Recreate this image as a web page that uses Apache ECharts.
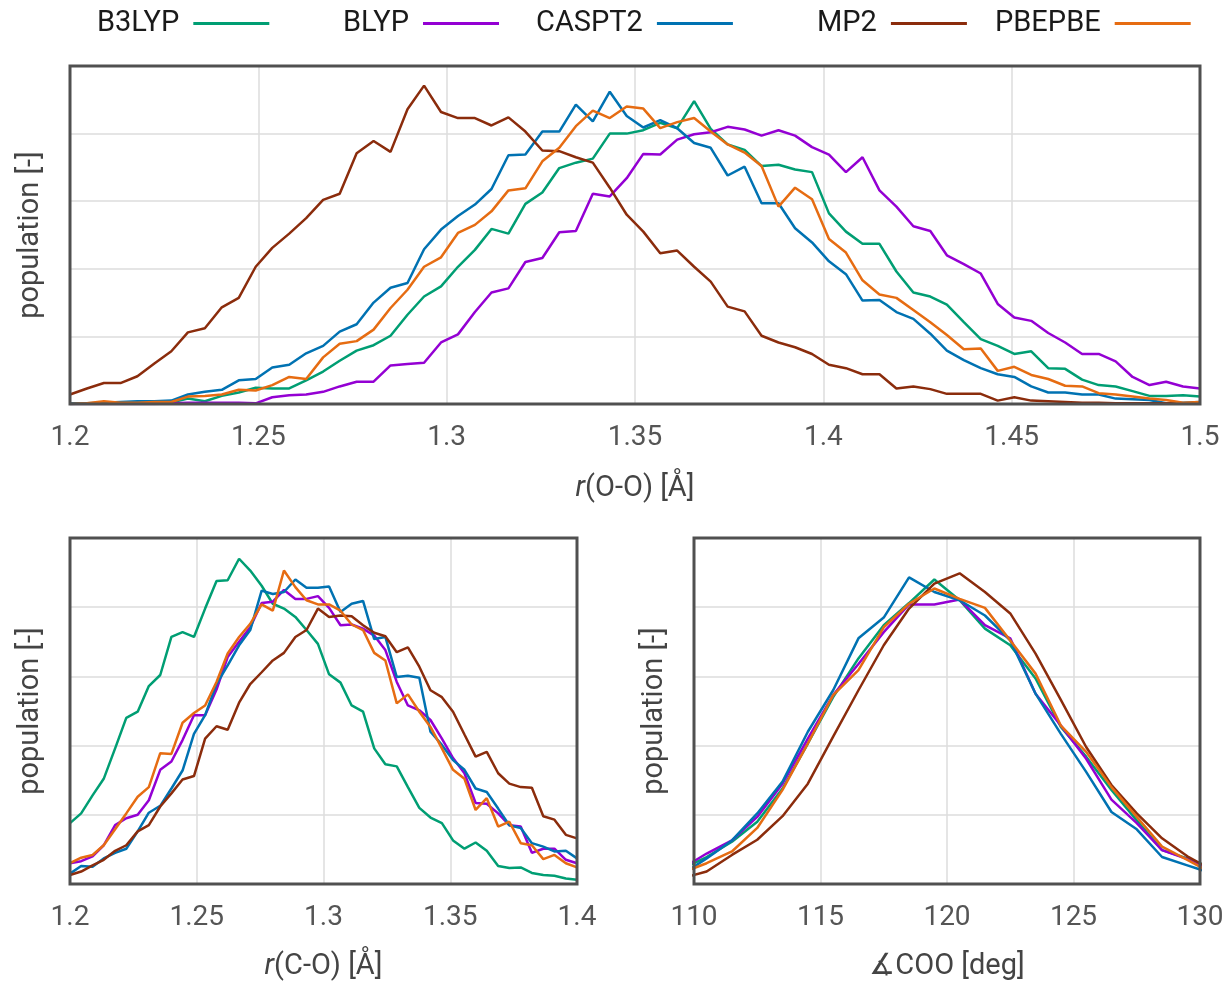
<!DOCTYPE html>
<html>
<head>
<meta charset="utf-8">
<script src="https://cdn.jsdelivr.net/npm/echarts@6/dist/echarts.min.js"></script>
<style>
html,body{margin:0;padding:0;background:#fff;}
#chart{width:1231px;height:981px;}
</style>
</head>
<body>
<div id="chart"></div>
<script>
// ---------- data ----------
const seriesNames = ['B3LYP', 'BLYP', 'CASPT2', 'MP2', 'PBEPBE'];

// top panel: r(O-O)
const rOO = [1.2000,1.2045,1.2090,1.2134,1.2179,1.2224,1.2269,1.2313,1.2358,1.2403,
  1.2448,1.2493,1.2537,1.2582,1.2627,1.2672,1.2716,1.2761,1.2806,1.2851,
  1.2896,1.2940,1.2985,1.3030,1.3075,1.3119,1.3164,1.3209,1.3254,1.3299,
  1.3343,1.3388,1.3433,1.3478,1.3522,1.3567,1.3612,1.3657,1.3701,1.3746,
  1.3791,1.3836,1.3881,1.3925,1.3970,1.4015,1.4060,1.4104,1.4149,1.4194,
  1.4239,1.4284,1.4328,1.4373,1.4418,1.4463,1.4507,1.4552,1.4597,1.4642,
  1.4687,1.4731,1.4776,1.4821,1.4866,1.4910,1.4955,1.5000];
const ooB3LYP = [0.00,0.01,0.01,0.02,0.01,0.01,0.02,0.08,0.04,0.12,0.17,0.24,0.23,0.23,0.35,0.48,0.64,0.79,0.87,1.01,1.32,1.59,1.74,2.03,2.28,2.59,2.52,2.96,3.13,3.49,3.57,3.63,4.00,4.00,4.05,4.16,4.08,4.48,4.07,3.84,3.76,3.52,3.54,3.47,3.43,2.82,2.55,2.37,2.37,1.96,1.65,1.59,1.47,1.21,0.96,0.86,0.74,0.78,0.53,0.52,0.36,0.28,0.26,0.19,0.12,0.12,0.13,0.11];
const ooBLYP = [0.00,0.00,0.00,0.00,0.00,0.00,0.01,0.02,0.02,0.02,0.02,0.01,0.10,0.13,0.14,0.18,0.26,0.33,0.33,0.57,0.59,0.61,0.91,1.03,1.36,1.65,1.71,2.10,2.16,2.54,2.56,3.11,3.07,3.34,3.70,3.69,3.91,3.99,4.02,4.10,4.06,3.97,4.05,3.97,3.80,3.69,3.43,3.65,3.16,2.92,2.63,2.56,2.20,2.07,1.93,1.48,1.28,1.23,1.05,0.91,0.74,0.74,0.63,0.40,0.28,0.33,0.26,0.23];
const ooCASPT2 = [0.01,0.01,0.02,0.03,0.04,0.04,0.05,0.14,0.18,0.21,0.35,0.37,0.54,0.58,0.75,0.86,1.07,1.18,1.50,1.72,1.79,2.29,2.58,2.78,2.95,3.18,3.68,3.69,4.03,4.03,4.43,4.18,4.62,4.26,4.09,4.20,4.08,3.86,3.79,3.38,3.51,2.97,2.97,2.60,2.39,2.11,1.92,1.53,1.54,1.36,1.26,1.04,0.79,0.65,0.53,0.44,0.40,0.26,0.17,0.17,0.14,0.14,0.08,0.07,0.06,0.01,0.02,0.03];
const ooMP2 = [0.14,0.23,0.31,0.31,0.41,0.60,0.78,1.06,1.12,1.43,1.57,2.03,2.31,2.52,2.75,3.02,3.11,3.71,3.89,3.73,4.36,4.71,4.32,4.23,4.23,4.12,4.24,4.03,3.75,3.74,3.65,3.57,3.20,2.80,2.55,2.23,2.27,2.03,1.81,1.44,1.37,1.01,0.91,0.84,0.74,0.58,0.53,0.44,0.44,0.23,0.26,0.22,0.15,0.15,0.15,0.05,0.10,0.05,0.04,0.03,0.02,0.02,0.01,0.01,0.01,0.01,0.01,0.01];
const ooPBEPBE = [0.00,0.01,0.04,0.02,0.02,0.03,0.03,0.11,0.12,0.14,0.21,0.20,0.28,0.40,0.37,0.69,0.89,0.93,1.10,1.42,1.69,2.03,2.17,2.53,2.65,2.85,3.16,3.19,3.59,3.79,4.11,4.34,4.23,4.40,4.37,4.08,4.17,4.23,4.03,3.84,3.72,3.52,2.92,3.20,3.03,2.44,2.24,1.83,1.62,1.57,1.39,1.21,1.02,0.81,0.82,0.49,0.55,0.43,0.37,0.27,0.26,0.16,0.14,0.11,0.08,0.06,0.02,0.03];

// bottom-left panel: r(C-O)
const rCO = [1.2000,1.2044,1.2089,1.2133,1.2178,1.2222,1.2267,1.2311,1.2356,1.2400,
  1.2444,1.2489,1.2533,1.2578,1.2622,1.2667,1.2711,1.2756,1.2800,1.2844,
  1.2889,1.2933,1.2978,1.3022,1.3067,1.3111,1.3156,1.3200,1.3244,1.3289,
  1.3333,1.3378,1.3422,1.3467,1.3511,1.3556,1.3600,1.3644,1.3689,1.3733,
  1.3778,1.3822,1.3867,1.3911,1.3956,1.4000];
const coB3LYP = [0.88,1.02,1.28,1.52,1.96,2.40,2.49,2.86,3.02,3.57,3.64,3.57,3.98,4.38,4.39,4.70,4.53,4.31,4.05,3.98,3.86,3.67,3.47,3.03,2.91,2.58,2.49,1.96,1.73,1.70,1.40,1.10,0.96,0.88,0.63,0.51,0.60,0.48,0.26,0.23,0.24,0.16,0.13,0.12,0.08,0.06];
const coBLYP = [0.30,0.33,0.40,0.56,0.85,0.95,1.00,1.21,1.65,1.77,2.08,2.44,2.44,2.81,3.28,3.50,3.71,4.06,4.08,4.25,4.12,4.12,4.16,3.99,3.74,3.75,3.69,3.59,3.38,2.92,2.58,2.51,2.37,2.10,1.82,1.60,1.17,1.16,1.02,0.85,0.83,0.45,0.51,0.51,0.35,0.30];
const coCASPT2 = [0.15,0.26,0.25,0.37,0.45,0.51,0.76,1.03,1.13,1.38,1.64,2.17,2.44,2.89,3.16,3.45,3.67,4.24,4.19,4.22,4.40,4.28,4.28,4.30,3.93,4.05,4.09,3.54,3.57,2.99,3.01,2.98,2.20,2.01,1.79,1.65,1.38,1.33,1.09,0.85,0.81,0.59,0.54,0.47,0.48,0.37];
const coMP2 = [0.13,0.18,0.27,0.35,0.48,0.56,0.76,0.85,1.12,1.31,1.51,1.56,2.10,2.28,2.23,2.62,2.89,3.06,3.23,3.34,3.57,3.67,3.98,3.86,3.88,3.87,3.74,3.63,3.58,3.35,3.42,3.14,2.80,2.70,2.49,2.16,1.84,1.91,1.60,1.45,1.40,1.39,0.98,0.93,0.71,0.66];
const coPBEPBE = [0.30,0.38,0.42,0.56,0.79,1.02,1.26,1.40,1.89,1.88,2.33,2.47,2.58,2.92,3.33,3.57,3.76,4.04,3.95,4.53,4.29,4.10,4.04,4.04,3.95,3.75,3.67,3.34,3.23,2.61,2.74,2.49,2.27,1.96,1.65,1.52,1.07,1.24,0.83,0.90,0.59,0.56,0.36,0.42,0.30,0.24];

// bottom-right panel: angle COO
const angCOO = [109.5,110.5,111.5,112.5,113.5,114.5,115.5,116.5,117.5,118.5,119.5,
  120.5,121.5,122.5,123.5,124.5,125.5,126.5,127.5,128.5,129.5,130.5];
const anB3LYP = [0.21,0.39,0.61,0.90,1.38,2.03,2.70,3.26,3.74,4.06,4.40,4.10,3.69,3.45,2.97,2.27,1.84,1.36,0.92,0.49,0.37,0.23];
const anBLYP = [0.22,0.44,0.63,0.97,1.45,2.10,2.73,3.18,3.64,4.04,4.04,4.11,3.74,3.55,2.75,2.29,1.81,1.22,0.88,0.49,0.36,0.18];
const anCASPT2 = [0.13,0.37,0.63,1.02,1.48,2.20,2.80,3.55,3.85,4.43,4.22,4.10,3.88,3.52,2.75,2.17,1.62,1.04,0.79,0.39,0.27,0.15];
const anMP2 = [0.08,0.18,0.42,0.64,0.98,1.45,2.13,2.80,3.45,3.98,4.34,4.49,4.22,3.91,3.33,2.66,1.98,1.43,1.02,0.66,0.40,0.20];
const anPBEPBE = [0.16,0.30,0.47,0.81,1.36,2.03,2.73,3.09,3.71,4.05,4.27,4.12,3.99,3.52,3.04,2.29,1.91,1.40,0.97,0.54,0.35,0.15];

// ---------- styling ----------
const colors = {B3LYP:'#009E73', BLYP:'#9400D3', CASPT2:'#0072B2', MP2:'#8B2C0C', PBEPBE:'#E66C12'};
const FONT = "Roboto, 'DejaVu Sans', sans-serif";
const TICK_COLOR = '#555555';
const TITLE_COLOR = '#444444';

const panels = [
  {x: rOO, ys: [ooB3LYP, ooBLYP, ooCASPT2, ooMP2, ooPBEPBE]},
  {x: rCO, ys: [coB3LYP, coBLYP, coCASPT2, coMP2, coPBEPBE]},
  {x: angCOO, ys: [anB3LYP, anBLYP, anCASPT2, anMP2, anPBEPBE]}
];

const gridBase = {show: true, backgroundColor: 'transparent', borderColor: '#505050', borderWidth: 3, containLabel: false, outerBoundsMode: 'none', z: 5};
const grids = [
  Object.assign({left: 70, width: 1130, top: 66, height: 338}, gridBase),
  Object.assign({left: 70, width: 507, top: 538, height: 346}, gridBase),
  Object.assign({left: 694, width: 506, top: 538, height: 346}, gridBase)
];

const splitLine = {show: true, showMinLine: false, showMaxLine: false, lineStyle: {color: '#dcdcdc', width: 1.5}};
function xAxis(i, min, max, interval, name, gap) {
  return {
    type: 'value', gridIndex: i, min: min, max: max, interval: interval,
    axisLine: {show: false}, axisTick: {show: false}, splitLine: splitLine,
    axisLabel: {color: TICK_COLOR, fontSize: 28, fontFamily: FONT, margin: 20},
    name: name, nameLocation: 'middle', nameGap: gap,
    nameTextStyle: {color: TITLE_COLOR, fontSize: 29, fontFamily: FONT,
      rich: {i: {fontStyle: 'italic', color: TITLE_COLOR, fontSize: 29, fontFamily: FONT}}}
  };
}
function yAxis(i) {
  return {
    type: 'value', gridIndex: i, min: 0, max: 5, interval: 1,
    axisLine: {show: false}, axisTick: {show: false}, axisLabel: {show: false},
    splitLine: splitLine,
    name: 'population [-]', nameLocation: 'middle', nameGap: 25,
    nameTextStyle: {color: TITLE_COLOR, fontSize: 29, fontFamily: FONT}
  };
}

const series = [];
panels.forEach((p, gi) => {
  seriesNames.forEach((n, si) => {
    series.push({
      name: n, type: 'line', xAxisIndex: gi, yAxisIndex: gi,
      data: p.x.map((xv, k) => [xv, p.ys[si][k]]),
      symbol: 'none', showSymbol: false, clip: true, animation: false,
      lineStyle: {color: colors[n], width: 2.5}, itemStyle: {color: colors[n]}
    });
  });
});

const legendLeft = {B3LYP: 97, BLYP: 343, CASPT2: 536, MP2: 817, PBEPBE: 995};
const legends = seriesNames.map(n => ({
  data: [n], left: legendLeft[n], top: 9, padding: 0, align: 'right',
  icon: 'rect', itemWidth: 76, itemHeight: 3, selectedMode: false,
  textStyle: {color: '#1a1a1a', fontSize: 29, fontFamily: FONT, padding: [0, 9, 0, 0]}
}));

const chart = echarts.init(document.getElementById('chart'), null, {renderer: 'canvas'});
chart.setOption({
  backgroundColor: '#fff',
  animation: false,
  legend: legends,
  grid: grids,
  xAxis: [
    xAxis(0, 1.2, 1.5, 0.05, '{i|r}(O-O) [Å]', 70),
    xAxis(1, 1.2, 1.4, 0.05, '{i|r}(C-O) [Å]', 68),
    xAxis(2, 110, 130, 5, '∡COO [deg]', 68)
  ],
  yAxis: [yAxis(0), yAxis(1), yAxis(2)],
  series: series
});
</script>
</body>
</html>
